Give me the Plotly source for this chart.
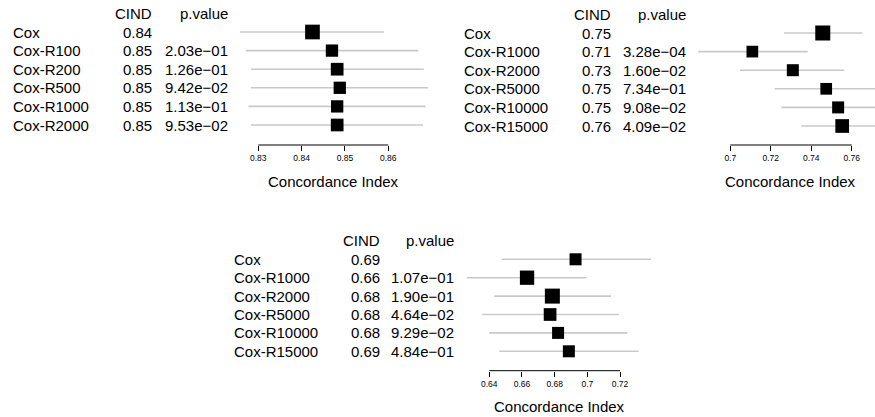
import plotly.graph_objects as go

# ---------------- data ----------------
labels_1 = ["Cox", "Cox-R100", "Cox-R200", "Cox-R500", "Cox-R1000", "Cox-R2000"]
cind_1 = ["0.84", "0.85", "0.85", "0.85", "0.85", "0.85"]
pval_1 = ["", "2.03e\u221201", "1.26e\u221201", "9.42e\u221202", "1.13e\u221201", "9.53e\u221202"]
est_1 = [0.8425, 0.8470, 0.8482, 0.8488, 0.8482, 0.8482]
lo_1 = [0.8258, 0.8271, 0.8283, 0.8283, 0.8277, 0.8283]
hi_1 = [0.8590, 0.8669, 0.8682, 0.8692, 0.8686, 0.8680]
box_1 = [14.7, 12.3, 12.7, 12.3, 12.3, 12.7]
ticks_1 = [0.83, 0.84, 0.85, 0.86]
ticktext_1 = ["0.83", "0.84", "0.85", "0.86"]

labels_2 = ["Cox", "Cox-R1000", "Cox-R2000", "Cox-R5000", "Cox-R10000", "Cox-R15000"]
cind_2 = ["0.75", "0.71", "0.73", "0.75", "0.75", "0.76"]
pval_2 = ["", "3.28e\u221204", "1.60e\u221202", "7.34e\u221201", "9.08e\u221202", "4.09e\u221202"]
est_2 = [0.7457, 0.7109, 0.7309, 0.7474, 0.7533, 0.7553]
lo_2 = [0.7265, 0.6842, 0.7048, 0.7219, 0.7252, 0.7351]
hi_2 = [0.7652, 0.7383, 0.7563, 0.7730, 0.7810, 0.7760]
box_2 = [15.0, 11.7, 12.0, 11.7, 12.0, 13.7]
ticks_2 = [0.70, 0.72, 0.74, 0.76]
ticktext_2 = ["0.7", "0.72", "0.74", "0.76"]

labels_3 = ["Cox", "Cox-R1000", "Cox-R2000", "Cox-R5000", "Cox-R10000", "Cox-R15000"]
cind_3 = ["0.69", "0.66", "0.68", "0.68", "0.68", "0.69"]
pval_3 = ["", "1.07e\u221201", "1.90e\u221201", "4.64e\u221202", "9.29e\u221202", "4.84e\u221201"]
est_3 = [0.6928, 0.6631, 0.6786, 0.6772, 0.6821, 0.6887]
lo_3 = [0.6476, 0.6262, 0.6429, 0.6357, 0.6400, 0.6461]
hi_3 = [0.7390, 0.6996, 0.7145, 0.7192, 0.7245, 0.7314]
box_3 = [12.0, 14.3, 15.0, 12.7, 12.0, 12.0]
ticks_3 = [0.64, 0.66, 0.68, 0.70, 0.72]
ticktext_3 = ["0.64", "0.66", "0.68", "0.7", "0.72"]

header_cind = "CIND"
header_p = "p.value"
axis_title = "Concordance Index"

# ---------------- layout helpers ----------------
W, H = 875, 417
FONT = "Liberation Sans, Arial, Helvetica, sans-serif"


def px(p):
    return p / W


def py(p):
    return 1 - p / H


def xrange_for(t0, p0, t1, p1, d0, d1):
    s = (p1 - p0) / (t1 - t0)
    return [t0 + (d0 - p0) / s, t0 + (d1 - p0) / s]


def yrange_for(row0_px, step, top_px, bottom_px):
    return [(bottom_px - row0_px) / step, (top_px - row0_px) / step]


panels = [
    dict(labels=labels_1, cind=cind_1, pval=pval_1, est=est_1, lo=lo_1, hi=hi_1, box=box_1,
         ticks=ticks_1, ticktext=ticktext_1,
         xcal=(0.83, 258.3, 0.86, 388.3), xdom=(215, 440),
         row0=32.0, step=18.6, top=4, axis=145,
         lab_x=11, cind_x=153.5, p_x=230, title=(333, 182)),
    dict(labels=labels_2, cind=cind_2, pval=pval_2, est=est_2, lo=lo_2, hi=hi_2, box=box_2,
         ticks=ticks_2, ticktext=ticktext_2,
         xcal=(0.70, 730.3, 0.76, 851.7), xdom=(690, 875),
         row0=33.0, step=18.6, top=4, axis=145,
         lab_x=462, cind_x=612.5, p_x=688, title=(790, 182)),
    dict(labels=labels_3, cind=cind_3, pval=pval_3, est=est_3, lo=lo_3, hi=hi_3, box=box_3,
         ticks=ticks_3, ticktext=ticktext_3,
         xcal=(0.64, 489.3, 0.72, 620.0), xdom=(460, 680),
         row0=259.3, step=18.4, top=228, axis=370.7,
         lab_x=232, cind_x=381.5, p_x=456, title=(559, 406.7)),
]

fig = go.Figure()
annotations = []
shapes = []
layout = dict(
    width=W, height=H, margin=dict(l=0, r=0, t=0, b=0),
    paper_bgcolor="white", plot_bgcolor="white", showlegend=False,
    font=dict(family=FONT, color="black"),
)

for k, p in enumerate(panels, start=1):
    xa = "x" if k == 1 else f"x{k}"
    ya = "y" if k == 1 else f"y{k}"
    xkey = "xaxis" if k == 1 else f"xaxis{k}"
    ykey = "yaxis" if k == 1 else f"yaxis{k}"
    rows = list(range(len(p["labels"])))

    # CI lines
    for i in rows:
        fig.add_trace(go.Scatter(
            x=[p["lo"][i], p["hi"][i]], y=[i, i], mode="lines",
            line=dict(color="#c9c9c9", width=1.6),
            xaxis=xa, yaxis=ya, hoverinfo="skip"))
    # boxes
    fig.add_trace(go.Scatter(
        x=p["est"], y=rows, mode="markers", opacity=1,
        marker=dict(symbol="square", size=p["box"], color="#000000", opacity=1,
                    line=dict(width=0, color="#000000")),
        xaxis=xa, yaxis=ya, cliponaxis=False))

    x0, x1 = p["xdom"]
    layout[xkey] = dict(
        domain=[px(x0), px(x1)],
        range=xrange_for(*p["xcal"], x0, x1),
        anchor=ya, showgrid=False, zeroline=False, showline=False,
        tickmode="array", tickvals=p["ticks"], ticktext=p["ticktext"],
        ticks="outside", ticklen=5, tickwidth=1, tickcolor="black",
        tickfont=dict(size=8.5, family=FONT, color="black"),
    )
    layout[ykey] = dict(
        domain=[py(p["axis"]), py(p["top"])],
        range=yrange_for(p["row0"], p["step"], p["top"], p["axis"]),
        anchor=xa, visible=False,
    )
    # axis line spanning first to last tick
    shapes.append(dict(type="line", xref=xa, yref=f"{ya} domain",
                       x0=p["ticks"][0], x1=p["ticks"][-1], y0=0, y1=0,
                       line=dict(color="black", width=1)))

    # headers
    annotations.append(dict(text=header_cind, x=px(p["cind_x"]), xref="paper", y=-1, yref=ya,
                            xanchor="right", yanchor="middle", showarrow=False,
                            font=dict(size=15)))
    annotations.append(dict(text=header_p, x=px(p["p_x"]), xref="paper", y=-1, yref=ya,
                            xanchor="right", yanchor="middle", showarrow=False,
                            font=dict(size=15)))
    for i in rows:
        annotations.append(dict(text=p["labels"][i], x=px(p["lab_x"]), xref="paper", y=i, yref=ya,
                                xanchor="left", yanchor="middle", showarrow=False,
                                font=dict(size=15)))
        annotations.append(dict(text=p["cind"][i], x=px(p["cind_x"]), xref="paper", y=i, yref=ya,
                                xanchor="right", yanchor="middle", showarrow=False,
                                font=dict(size=15)))
        if p["pval"][i]:
            annotations.append(dict(text=p["pval"][i], x=px(p["p_x"]), xref="paper", y=i, yref=ya,
                                    xanchor="right", yanchor="middle", showarrow=False,
                                    font=dict(size=15)))
    tx, ty = p["title"]
    annotations.append(dict(text=axis_title, x=px(tx), y=py(ty), xref="paper", yref="paper",
                            xanchor="center", yanchor="middle", showarrow=False,
                            font=dict(size=15)))

layout["annotations"] = annotations
layout["shapes"] = shapes
fig.update_layout(**layout)
fig.write_html(
    "out.html",
    config={"displayModeBar": False},
    post_script="document.body.style.margin='0px';document.body.style.overflow='hidden';",
)
